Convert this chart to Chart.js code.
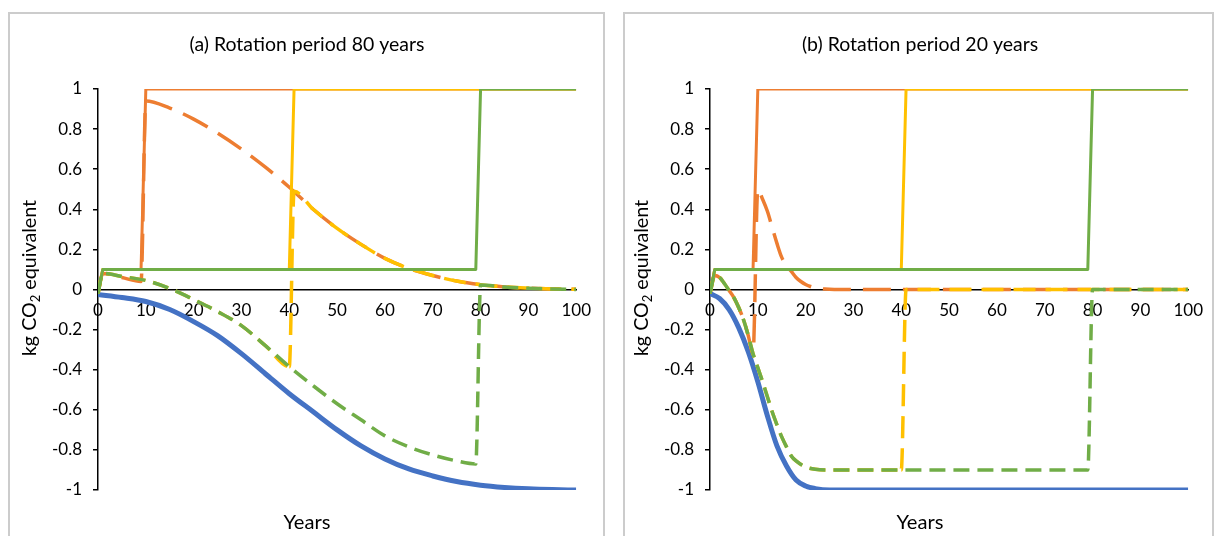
<!DOCTYPE html>
<html><head><meta charset="utf-8">
<script src="https://cdn.jsdelivr.net/npm/chart.js@4.4.1/dist/chart.umd.min.js"></script>
<style>
html,body{margin:0;padding:0;background:#fff;width:1215px;height:536px;overflow:hidden;position:relative;}
.frame{position:absolute;border:2px solid #cccccc;border-bottom:none;box-sizing:border-box;}
canvas{position:absolute;}
</style></head><body>
<div class="frame" style="left:8px;top:12px;width:597px;height:524px"></div>
<div class="frame" style="left:623px;top:12px;width:591px;height:524px"></div>
<canvas id="ca" width="592" height="522" style="left:10px;top:14px;width:592px;height:522px"></canvas>
<canvas id="cb" width="588" height="522" style="left:626px;top:14px;width:588px;height:522px"></canvas>
<script>
// ---------- text ----------
const titles = ['(a) Rotation period 80 years', '(b) Rotation period 20 years'];
const xTitle = 'Years';
const yTitleParts = ['kg CO', '2', ' equivalent'];

// ---------- axis ----------
const xMin = 0, xMax = 100, xStep = 10;
const yMin = -1, yMax = 1, yStep = 0.2;

// ---------- shared step (solid) series ----------
const stepY = [-0.02, 0.1, 0.1, 1, 1];
const stepOrangeX = [0, 1, 9, 10, 100];
const stepYellowX = [0, 1, 40, 41, 100];
const stepGreenX  = [0, 1, 79, 80, 100];

// ---------- panel (a): rotation 80 years ----------
const aBlueX = [0,5,10,15,20,25,30,35,40,45,50,55,60,65,70,75,80,85,90,95,100];
const aBlueY = [-0.025,-0.04,-0.06,-0.10,-0.16,-0.23,-0.32,-0.42,-0.52,-0.61,-0.70,-0.78,-0.845,-0.895,-0.93,-0.958,-0.976,-0.987,-0.994,-0.998,-1];

const aOrangeDashX = [0,1,5,9,10,15,20,25,30,35,40,45,50,55,60,65,70,75,80,85,90,95,100];
const aOrangeDashY = [-0.02,0.08,0.06,0.04,0.94,0.905,0.85,0.78,0.70,0.61,0.51,0.40,0.305,0.225,0.155,0.105,0.07,0.042,0.024,0.013,0.007,0.003,0.001];

const aYellowDashX = [0,1,5,10,15,20,25,30,35,40,41,45,50,55,60,65,70,75,80,85,90,95,100];
const aYellowDashY = [-0.02,0.08,0.065,0.045,0.005,-0.05,-0.11,-0.18,-0.28,-0.385,0.49,0.40,0.305,0.225,0.155,0.105,0.07,0.042,0.024,0.013,0.007,0.003,0.001];

const aGreenDashX = [0,1,5,10,15,20,25,30,35,40,45,50,55,60,65,70,75,79,80,85,90,95,100];
const aGreenDashY = [-0.02,0.08,0.065,0.045,0.005,-0.05,-0.11,-0.18,-0.28,-0.385,-0.48,-0.57,-0.65,-0.73,-0.785,-0.825,-0.855,-0.87,0.022,0.012,0.006,0.002,0];

// ---------- panel (b): rotation 20 years ----------
const bBlueX = [0,2,4,6,8,10,12,14,16,18,20,22,25,30,100];
const bBlueY = [-0.02,-0.045,-0.10,-0.19,-0.31,-0.46,-0.63,-0.78,-0.88,-0.95,-0.98,-0.993,-1,-1,-1];

const bOrangeDashX = [0,1,2,3,4,5,6,7,8,9,10,11,12,13,14,15,16,17,18,19,20,21,22,24,26,100];
const bOrangeDashY = [-0.02,0.07,0.06,0.03,-0.005,-0.04,-0.09,-0.15,-0.23,-0.32,0.50,0.45,0.39,0.31,0.23,0.16,0.12,0.09,0.06,0.04,0.025,0.015,0.008,0.002,0,0];

const bYellowDashX = [0,1,2,3,4,5,6,7,8,9,10,11,12,13,14,15,16,17,18,20,22,25,40,41,100];
const bYellowDashY = [-0.02,0.07,0.06,0.03,-0.005,-0.04,-0.09,-0.15,-0.23,-0.32,-0.39,-0.46,-0.535,-0.61,-0.675,-0.735,-0.785,-0.83,-0.855,-0.885,-0.897,-0.9,-0.9,0,0];

const bGreenDashX = [0,1,2,3,4,5,6,7,8,9,10,11,12,13,14,15,16,17,18,20,22,25,79,80,100];
const bGreenDashY = [-0.02,0.07,0.06,0.03,-0.005,-0.04,-0.09,-0.15,-0.23,-0.32,-0.39,-0.46,-0.535,-0.61,-0.675,-0.735,-0.785,-0.83,-0.855,-0.885,-0.897,-0.9,-0.9,0,0];

// ---------- styling ----------
const C = {blue:'#4472C4', orange:'#ED7D31', yellow:'#FFC000', green:'#70AD47'};
const FONT = 'Lato, "Open Sans", sans-serif';
const mctx = document.createElement('canvas').getContext('2d');
function fitSize(text, target){ mctx.font = '20px ' + FONT; return 20 * target / mctx.measureText(text).width; }
const tickSize = 17;
const titleSize = fitSize(titles[0], 235);
const xTitleSize = fitSize(xTitle, 47);
const ySize = 19.7;
const greenDash = [16, 8];

function pts(xs, ys){ return xs.map((x,i)=>({x:x, y:ys[i]})); }
function line(xs, ys, color, width, dash, smooth){
  return {data: pts(xs, ys), borderColor: color, backgroundColor: color, borderWidth: width,
    borderDash: dash || [], pointRadius: 0, fill: false, tension: 0,
    cubicInterpolationMode: smooth ? 'monotone' : 'default', borderCapStyle: 'butt', borderJoinStyle: 'round'};
}
function buildSets(blueX, blueY, oX, oY, yX, yY, gX, gY){
  const yellowDash = line(yX, yY, C.yellow, 3.5, [22,10], true);
  // before its harvest the yellow dashed series shares the green one's path and dash
  yellowDash.segment = {borderDash: c => (c.p1.parsed.x <= 40 ? greenDash : [22,10])};
  const list = [
    line(blueX, blueY, C.blue, 5, null, true),
    line(stepOrangeX, stepY, C.orange, 3, null, false),
    line(oX, oY, C.orange, 3.5, [28,12], true),
    line(stepYellowX, stepY, C.yellow, 3, null, false),
    yellowDash,
    line(stepGreenX, stepY, C.green, 3, null, false),
    line(gX, gY, C.green, 3.5, greenDash, true)
  ];
  list.forEach((d,i)=>{ d.order = list.length - i; });
  return list;
}

const panelText = {
  id: 'panelText',
  afterDraw(chart, args, o){
    const ctx = chart.ctx;
    ctx.save();
    ctx.fillStyle = '#000';
    ctx.textAlign = 'center';
    ctx.textBaseline = 'middle';
    ctx.font = titleSize + 'px ' + FONT;
    ctx.fillText(o.title, o.cx, o.titleY);
    ctx.font = xTitleSize + 'px ' + FONT;
    ctx.fillText(xTitle, o.cx, o.xTitleY);
    const big = ySize, small = Math.round(ySize * 0.68);
    ctx.font = big + 'px ' + FONT;
    const w1 = ctx.measureText(yTitleParts[0]).width;
    const w3 = ctx.measureText(yTitleParts[2]).width;
    ctx.font = small + 'px ' + FONT;
    const w2 = ctx.measureText(yTitleParts[1]).width;
    const total = w1 + w2 + w3;
    ctx.translate(o.yTitleX, o.yTitleY);
    ctx.rotate(-Math.PI/2);
    ctx.textAlign = 'left';
    ctx.textBaseline = 'alphabetic';
    let x = -total/2, base = big*0.36;
    ctx.font = big + 'px ' + FONT;
    ctx.fillText(yTitleParts[0], x, base); x += w1;
    ctx.font = small + 'px ' + FONT;
    ctx.fillText(yTitleParts[1], x, base + big*0.22); x += w2;
    ctx.font = big + 'px ' + FONT;
    ctx.fillText(yTitleParts[2], x, base);
    ctx.restore();
  }
};

function fmt(v){ const r = Math.round(v*10)/10; return r === 0 ? '0' : String(r); }

function makeChart(id, datasets, L){
  new Chart(document.getElementById(id), {
    type: 'line',
    data: {datasets: datasets},
    options: {
      responsive: false, animation: false, devicePixelRatio: 1,
      layout: {padding: {left: 0, right: L.padRight, top: 75, bottom: 46}},
      plugins: {legend: {display:false}, tooltip: {enabled:false}, title: {display:false},
        panelText: L.text},
      scales: {
        x: {type:'linear', min:xMin, max:xMax, position:{y:0},
          ticks:{stepSize:xStep, padding:11, color:'#000', font:{family:FONT, size:tickSize}, maxRotation:0, autoSkip:false},
          grid:{display:false, drawTicks:false},
          border:{display:true, color:'#000', width:1.5},
          afterFit(s){ s.height = 30; }},
        y: {type:'linear', min:yMin, max:yMax,
          ticks:{stepSize:yStep, padding:11, color:'#000', font:{family:FONT, size:tickSize}, callback: fmt},
          grid:{display:true, drawOnChartArea:false, drawTicks:true, tickLength:5, color:'#000', lineWidth:1.5},
          border:{display:true, color:'#000', width:1.5},
          afterFit(s){ s.width = L.yWidth; }}
      }
    },
    plugins: [panelText]
  });
}

makeChart('ca', buildSets(aBlueX, aBlueY, aOrangeDashX, aOrangeDashY, aYellowDashX, aYellowDashY, aGreenDashX, aGreenDashY),
  {padRight: 24, yWidth: 88, text: {title: titles[0], cx: 297, titleY: 31, xTitleY: 509, yTitleX: 19, yTitleY: 264}});
makeChart('cb', buildSets(bBlueX, bBlueY, bOrangeDashX, bOrangeDashY, bYellowDashX, bYellowDashY, bGreenDashX, bGreenDashY),
  {padRight: 21, yWidth: 84, text: {title: titles[1], cx: 294, titleY: 31, xTitleY: 509, yTitleX: 15, yTitleY: 264}});
</script>
</body></html>
